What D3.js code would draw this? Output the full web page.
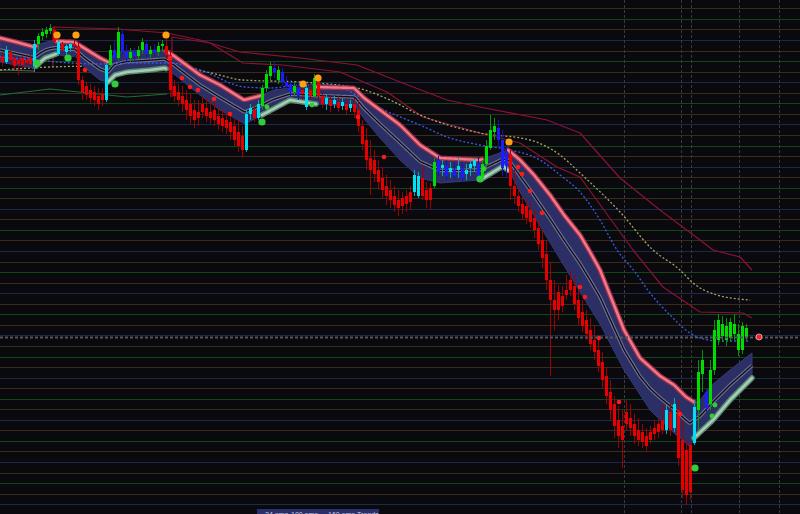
<!DOCTYPE html>
<html><head><meta charset="utf-8">
<script src="https://cdnjs.cloudflare.com/ajax/libs/d3/7.8.5/d3.min.js"></script>
<style>html,body{margin:0;padding:0;background:#0a0a0e;overflow:hidden}</style>
</head><body><svg id="c" width="800" height="514"></svg>
<script>
// ---------- DATA (price units; bar index = candle number) ----------
const opens = [544,538,548,542,540,542,540,542,534,556,
564,566,569,570,546,556,548,552,556,554,
520,514,510,508,504,506,500,535,550,542,
566,548,542,548,544,550,556,546,550,548,
554,554,545,514,508,504,500,496,490,488,
496,492,488,490,484,482,480,478,474,468,
464,450,486,490,482,494,512,524,532,520,
528,518,516,508,512,510,493,510,504,522,
504,496,500,496,498,494,496,492,496,490,
474,460,442,440,430,422,414,410,404,400,
402,404,408,408,404,422,410,412,414,440,
432,434,428,430,430,432,426,432,434,436,
422,436,452,468,472,460,448,446,414,404,
396,394,390,382,372,360,346,320,300,308,
304,310,320,314,300,288,280,270,260,250,
238,224,208,196,180,174,188,182,176,170,
168,164,168,172,176,180,170,188,172,190,
160,150,155,157,190,226,208,196,230,260,
264,274,262,276,266,250,272];
const highs = [548,554,550,545,544,545,543,545,560,567,
572,573,576,574,560,558,556,558,560,558,
524,518,516,514,512,512,538,555,560,573,
570,555,552,552,554,562,560,554,556,558,
560,564,550,520,516,514,510,506,500,500,
504,502,500,498,494,490,488,486,482,480,
474,490,496,494,500,515,530,538,538,534,
532,524,520,518,518,516,515,516,526,526,
508,506,505,504,504,502,502,500,502,500,
480,472,460,450,440,432,425,420,414,410,
408,410,414,430,428,435,418,417,442,444,
440,440,438,438,442,438,436,440,442,442,
440,460,485,482,480,470,460,450,430,412,
404,400,398,390,380,370,360,338,320,315,
314,325,330,324,310,300,290,282,274,260,
248,232,220,204,194,190,200,196,186,182,
176,172,174,180,182,196,195,196,202,200,
180,160,160,200,240,250,212,240,280,286,
284,282,282,286,276,278,276];
const lows = [534,536,535,530,525,532,534,533,528,550,
560,562,566,555,544,548,545,548,550,515,
500,500,496,494,490,494,498,532,538,540,
545,538,538,540,540,546,542,542,544,544,
548,540,503,498,494,488,480,476,472,474,
482,478,476,474,470,468,466,460,454,448,
442,448,480,478,480,490,508,520,522,516,
514,510,504,504,500,500,490,500,502,500,
492,490,488,492,488,490,486,488,482,468,
450,430,405,418,410,402,395,392,388,384,
386,388,390,404,402,400,392,390,412,424,
424,420,422,420,422,418,420,424,428,418,
420,432,450,460,452,424,422,400,396,388,
380,376,372,362,350,332,310,224,270,280,
288,300,304,290,274,268,260,250,240,228,
212,196,180,162,152,132,170,164,156,154,
152,148,156,160,162,166,166,164,168,134,
102,95,100,155,170,208,188,190,225,255,
258,254,258,260,244,246,260];
const closes = [538,550,540,534,536,535,537,536,556,564,
568,570,572,558,558,550,554,556,554,520,
508,505,502,500,496,500,535,550,542,568,
548,542,548,544,550,558,546,550,548,554,
556,545,510,504,500,496,490,484,480,482,
488,484,482,480,476,474,472,468,460,454,
450,486,492,482,496,512,526,534,528,530,
518,514,508,514,504,506,512,504,522,504,
496,502,494,500,492,498,490,496,488,474,
456,440,430,426,418,410,404,400,395,392,
394,396,398,425,424,404,400,400,438,428,
435,424,432,424,434,422,430,436,440,422,
436,454,470,474,460,432,434,414,404,394,
386,382,378,370,356,342,320,300,290,290,
294,305,310,296,282,274,266,256,248,234,
220,204,190,174,164,160,176,172,164,160,
158,154,160,166,168,170,190,170,196,142,
110,105,108,193,228,240,192,230,270,280,
276,260,278,266,250,274,263];
// candle colour code per bar: r = bear/down, c = bull/down, g = bull/up, b = bear/up
const candleColors = "rcrrrrrrcggggrcrccr" + "r".repeat(7) + "c" + "gbgbbgbggbgbgg" + "r" +
  "r".repeat(19) + "ccrc" + "gggbgbbbgb" + "rcrgr" + "rcrcrcrc" + "r".repeat(15) + "cc" + "rrr" +
  "gbcbcbcbcccb" + "gggg" + "bbb" + "r".repeat(39) + "crc" + "rrrr" + "c" + "gg" + "b" + "g".repeat(10);

// trend band (24 ema channel) edges: [bar, price]
const bandTop = [[-0.5,562],[3.5,558],[8,553],[9.5,556],[12,559],[18,558],[20.5,552],[24.5,542],[26.5,538],[28,546],[31,549],[40.5,550],[43,544],[49.5,525],[54.5,515],[60.5,500],[64.5,504],[68,510],[74.5,513],[78.5,513],[88,512],[90.5,502],[94.5,490],[99.5,475],[104.5,455],[109.5,442],[119.5,440],[123,445],[126.5,450],[129.5,440],[133,425],[137,405],[140.5,385],[144.5,365],[147,348],[149.5,330],[152.5,300],[155.5,270],[159.5,242],[164.5,224],[168,215],[171,203],[173,198],[174.5,200],[177.5,215],[182,230],[187.5,247]];
const bandBottom = [[-0.5,538],[7.75,532],[8.5,534],[10.75,542],[13.5,546],[16.5,543],[18.25,544],[20.75,532],[24.5,520],[26.5,518],[28.25,525],[31.25,528],[37,530],[40.75,532],[43.25,525],[49.5,505],[54.5,490],[60.75,476],[65,485],[68.25,492],[72,500],[78.5,496],[88.25,494],[90.75,480],[94.5,462],[99.5,440],[104.5,422],[109.5,417],[119.5,420],[122,426],[125.25,434],[127,428],[129.5,408],[134.5,374],[140.25,336],[144.5,308],[149.5,276],[155.5,230],[162,190],[167.75,168],[172,153],[173,162],[177.75,180],[182,200],[187.5,222]];
// trend state of the band: [fromBar, toBar, "d"|"u"]
const bandTrend = [[-0.5,8.5,"d"],[8.5,13.5,"u"],[13.5,26.5,"d"],[26.5,41,"u"],[41,65,"d"],[65,78.5,"u"],[78.5,120,"d"],[120,126.5,"u"],[126.5,173,"d"],[173,187.5,"u"]];

// 100 ema (blue dotted) and 160 ema (khaki dotted)
const ema100 = [[-0.5,543],[7.75,540],[24.5,536],[34.5,537],[42,537],[49.5,530],[60.75,513],[67,512],[74.5,515],[82,515],[89.5,503],[94.5,492],[104.5,475],[112,462],[119.5,455],[127,450],[134.5,440],[139.5,425],[144.5,408],[149.5,380],[153.75,350],[158.25,328],[162,307],[167,285],[172,267],[174.5,262],[179.5,259],[187,259]];
const ema160 = [[-0.5,530],[12,533],[24.5,534],[39.5,535],[51.25,528],[60.25,520],[74.5,518],[88.75,512],[97,500],[104.5,485],[119.5,467],[132,460],[139.5,445],[144.5,427],[154.5,388],[162.75,350],[169.5,330],[172.75,317],[178.75,305],[187,300]];

// channel lines
const upperChannel = [[12.75,533],[12.75,573],[28.75,571],[41.25,567],[49.5,560],[59.5,548],[74.5,542],[88.75,535],[99.5,518],[111.25,500],[119.5,493],[136.25,480],[144.5,467],[154.5,422],[164.5,390],[174.5,360],[177.75,350],[184.5,343],[187.5,330]];
const lowerChannel = [[42.5,503],[42.5,563],[52,557],[60.25,537],[70.25,535],[84.5,528],[96.25,508],[105.25,483],[119.5,467],[129.5,457],[138.75,433],[144.5,423],[157.75,350],[165.25,313],[174.5,288],[185.25,287],[187.5,282]];
const supportLine = [[-0.5,505],[12,511],[31.25,503],[41.25,506]];
const boxLine = [[-0.5,530],[8,529]];

// signal dots [bar, price]
const sellSignals = [[13.75,565],[18.5,565],[41,565],[75.25,516],[79,522],[126.75,458]];
const buySignals = [[8.75,537],[16.5,542],[28.25,516],[65,478],[119.5,421],[173.25,132]];
const buySmall = [[66.25,493],[77.5,495],[120.5,431],[178.25,195],[177.5,184]];
const trailDots = [[20.75,530],[42,542],[45,522],[47,513],[49,510],[53,501],[57,486],[89,483],[95.5,443],[129,433],[130,426],[132,409],[135,387],[144.5,313],[145.75,303],[149.25,262],[154.25,198],[169.5,186]];
const lastSignal = [189.25, 263];

// period separators (bar positions) and grid levels
const separators = [155.5, 169.75, 172.25, 184.25, 194.25];
const gridBase = 560, gridStep = 10.55;
const legendLabels = ["24 ema", "100 ema", "160 ema", "Trends"];

// ---------- DRAW ----------
const W = 800, H = 514;
const svg = d3.select('#c');
const x = d3.scaleLinear().domain([0, 186]).range([2, 746]);
const y = d3.scaleLinear().domain([86, 600]).range([H, 0]);

svg.append('rect').attr('width', W).attr('height', H).attr('fill', '#0a0a0e');

const gridCol = ['#1b2a48', '#382c1b', '#0d4816', '#382c1b'];
svg.append('g').selectAll('line').data(d3.range(-3, 45)).join('line')
  .attr('x1', 0).attr('x2', W)
  .attr('y1', j => Math.round(y(gridBase - j * gridStep)) + 0.5)
  .attr('y2', j => Math.round(y(gridBase - j * gridStep)) + 0.5)
  .attr('stroke', j => gridCol[((j % 4) + 4) % 4]).attr('stroke-width', 1);

svg.append('g').selectAll('line').data(separators).join('line')
  .attr('x1', d => Math.round(x(d)) + 0.5).attr('x2', d => Math.round(x(d)) + 0.5)
  .attr('y1', 0).attr('y2', H)
  .attr('stroke', '#3a3a3e').attr('stroke-width', 1).attr('stroke-dasharray', '3,2');

const lin = d3.line().x(d => x(d[0])).y(d => y(d[1]));
const smooth = d3.line().x(d => x(d[0])).y(d => y(d[1])).curve(d3.curveMonotoneX);

function path(data, gen, stroke, w, dash) {
  const p = svg.append('path').attr('d', gen(data)).attr('fill', 'none')
    .attr('stroke', stroke).attr('stroke-width', w).attr('stroke-linejoin', 'round');
  if (dash) p.attr('stroke-dasharray', dash);
  return p;
}

path(upperChannel, lin, '#8c1232', 1.2);
path(lowerChannel, lin, '#8c1232', 1.2);
path(supportLine, lin, '#1f6b3e', 1.2);
path(boxLine, lin, '#3f6e55', 1.2);
path(ema160, smooth, '#a6a26a', 1.3, '2,2');

// band
function at(knots, b) {
  if (b <= knots[0][0]) return knots[0][1];
  for (let k = 1; k < knots.length; k++) {
    if (b <= knots[k][0]) {
      const [b0, p0] = knots[k - 1], [b1, p1] = knots[k];
      return b1 === b0 ? p1 : p0 + (p1 - p0) * (b - b0) / (b1 - b0);
    }
  }
  return knots[knots.length - 1][1];
}
const samples = d3.range(-0.5, 187.51, 0.25).map(b => ({ b, t: at(bandTop, b), u: at(bandBottom, b) }));
svg.append('path').datum(samples)
  .attr('d', d3.area().x(d => x(d.b)).y0(d => y(d.t)).y1(d => y(d.u)).curve(d3.curveBasis))
  .attr('fill', '#2b2f66').attr('stroke', '#34397a').attr('stroke-width', 1);

const midGen = d3.line().x(d => x(d.b)).y(d => y((d.t + d.u) / 2)).curve(d3.curveBasis);
svg.append('path').datum(samples).attr('d', midGen).attr('fill', 'none').attr('stroke', '#6e7090').attr('stroke-width', 3.6);
svg.append('path').datum(samples).attr('d', midGen).attr('fill', 'none').attr('stroke', '#0c0c16').attr('stroke-width', 1.3);

path(ema100, smooth, '#3b5ae6', 1.3, '2,2');

bandTrend.forEach(([b0, b1, t]) => {
  const seg = samples.filter(s => s.b >= b0 - 0.01 && s.b <= b1 + 0.01);
  const g = d3.line().x(d => x(d.b)).y(d => y(t === 'd' ? d.t : d.u)).curve(d3.curveBasis);
  if (t === 'd') {
    svg.append('path').datum(seg).attr('d', g).attr('fill', 'none').attr('stroke', '#a0304a').attr('stroke-width', 5).attr('stroke-linecap', 'round');
    svg.append('path').datum(seg).attr('d', g).attr('fill', 'none').attr('stroke', '#f27a88').attr('stroke-width', 2.4).attr('stroke-linecap', 'round');
  } else {
    svg.append('path').datum(seg).attr('d', g).attr('fill', 'none').attr('stroke', '#5b8a72').attr('stroke-width', 5.5).attr('stroke-linecap', 'round');
    svg.append('path').datum(seg).attr('d', g).attr('fill', 'none').attr('stroke', '#a6ccb6').attr('stroke-width', 2.6).attr('stroke-linecap', 'round');
  }
});

// candles
const pal = { r: ['#e80000', '#9c0000'], c: ['#00e0f4', '#00a8b8'], g: ['#00de00', '#009a00'], b: ['#1c1cff', '#1212c0'] };
const idx = d3.range(closes.length);
const cg = svg.append('g');
cg.selectAll('line').data(idx).join('line')
  .attr('x1', i => Math.round(x(i)) + 0.5).attr('x2', i => Math.round(x(i)) + 0.5)
  .attr('y1', i => y(highs[i])).attr('y2', i => y(lows[i]))
  .attr('stroke', i => pal[candleColors[i] || 'r'][1]).attr('stroke-width', 1);
cg.selectAll('rect').data(idx).join('rect')
  .attr('x', i => Math.round(x(i)) - 1).attr('width', 3)
  .attr('y', i => y(Math.max(opens[i], closes[i])))
  .attr('height', i => Math.max(1, Math.abs(y(opens[i]) - y(closes[i]))))
  .attr('fill', i => pal[candleColors[i] || 'r'][0]);

// dots
function dots(data, r, fill) {
  svg.append('g').selectAll('circle').data(data).join('circle')
    .attr('cx', d => x(d[0])).attr('cy', d => y(d[1])).attr('r', r).attr('fill', fill);
}
dots(trailDots, 2.3, '#ff1a1a');
dots(buySmall, 2.4, '#2fd02f');
dots(buySignals, 3.6, '#2fcf3a');
dots(sellSignals, 3.6, '#ffa010');

// last price line
const py = Math.round(y(closes[closes.length - 1])) + 0.5;
svg.append('line').attr('x1', 0).attr('x2', W).attr('y1', py).attr('y2', py)
  .attr('stroke', '#55555c').attr('stroke-width', 2).attr('stroke-dasharray', '3,2');
svg.append('circle').attr('cx', x(lastSignal[0])).attr('cy', y(lastSignal[1])).attr('r', 3)
  .attr('fill', '#ff2020').attr('stroke', '#d8d8d8').attr('stroke-width', 0.7);

// legend
svg.append('rect').attr('x', 257).attr('y', 509).attr('width', 122).attr('height', 10).attr('fill', '#2a2f6a');
const lx = [265, 291, 328, 357];
svg.append('g').selectAll('text').data(legendLabels).join('text')
  .attr('x', (d, i) => lx[i]).attr('y', 516.5)
  .attr('font-family', 'Liberation Sans, Arial, sans-serif').attr('font-size', 7)
  .attr('fill', '#c8c8dc').text(d => d);
</script>
</body></html>
